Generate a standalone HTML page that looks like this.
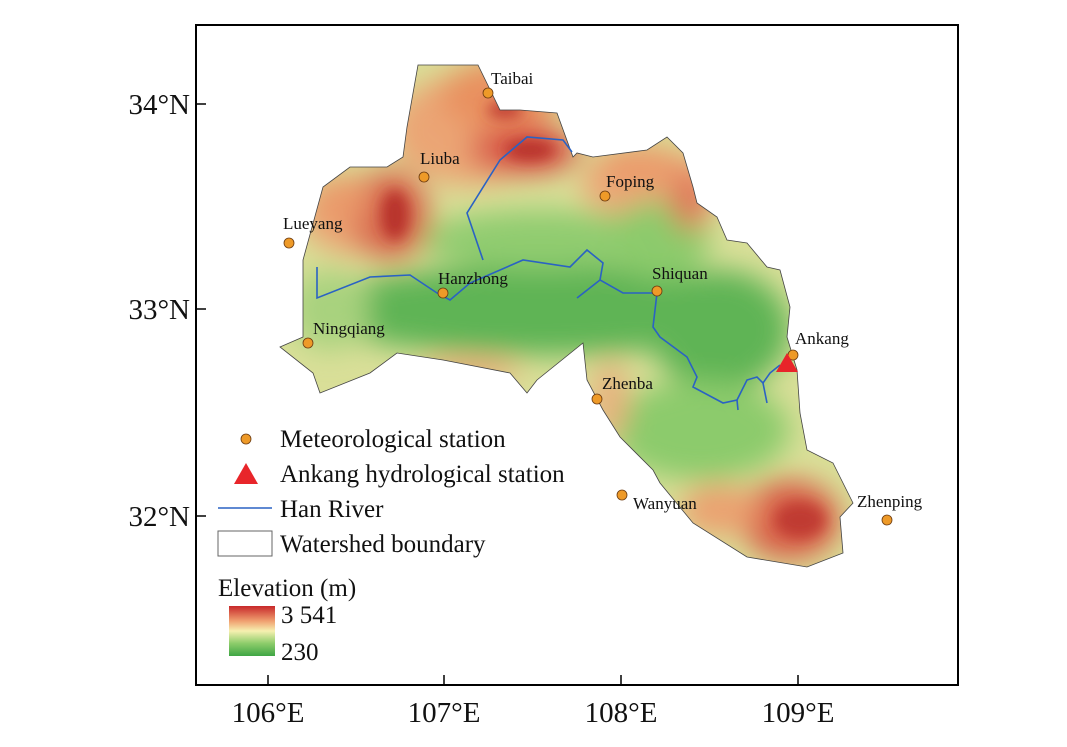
<!DOCTYPE html>
<html><head><meta charset="utf-8"><style>
html,body{margin:0;padding:0;background:#fff}
svg{display:block;font-family:"Liberation Serif",serif}
</style></head><body>
<svg width="1067" height="747" viewBox="0 0 1067 747" xmlns="http://www.w3.org/2000/svg">
<defs>
<clipPath id="ws"><path id="wsp" d="M418,65 L478,65 L500,110 L520,110 L557,113 L573,157 L577,153 L593,157 L647,150 L667,137 L683,153 L693,187 L697,203 L717,217 L727,240 L747,243 L767,267 L780,270 L790,307 L787,337 L797,370 L800,413 L807,450 L833,463 L853,503 L840,517 L843,553 L807,567 L747,557 L693,523 L660,483 L653,470 L620,437 L603,410 L587,380 L583,343 L537,380 L527,393 L510,373 L443,360 L397,353 L370,373 L320,393 L313,373 L280,347 L303,337 L303,260 L323,187 L350,167 L387,167 L403,157 L407,127 Z"/></clipPath>
<filter id="bl" x="-50%" y="-50%" width="200%" height="200%"><feGaussianBlur stdDeviation="14"/></filter>
<filter id="bl2" x="-50%" y="-50%" width="200%" height="200%"><feGaussianBlur stdDeviation="7"/></filter>
<linearGradient id="cb" x1="0" y1="0" x2="0" y2="1">
<stop offset="0" stop-color="#c8282a"/><stop offset="0.3" stop-color="#f0a070"/><stop offset="0.5" stop-color="#f6f0b0"/><stop offset="0.75" stop-color="#8ccc6a"/><stop offset="1" stop-color="#3fa544"/></linearGradient>
</defs>
<rect x="196" y="25" width="762" height="660" fill="none" stroke="#000" stroke-width="2"/>
<g clip-path="url(#ws)">
<rect x="270" y="60" width="600" height="520" fill="#d9df98"/>
<g filter="url(#bl)">
<ellipse cx="470" cy="130" rx="80" ry="55" fill="#eba575"/>
<ellipse cx="360" cy="215" rx="60" ry="40" fill="#eba575"/>
<ellipse cx="650" cy="185" rx="70" ry="35" fill="#eca978"/>
<ellipse cx="540" cy="310" rx="230" ry="45" fill="#5fb455"/>
<ellipse cx="720" cy="330" rx="70" ry="60" fill="#5fb455"/>
<ellipse cx="700" cy="430" rx="90" ry="50" fill="#8ccb6c"/>
<ellipse cx="540" cy="240" rx="120" ry="30" fill="#90cc70"/>
<ellipse cx="660" cy="240" rx="50" ry="40" fill="#8ccb6c"/>
<ellipse cx="330" cy="310" rx="40" ry="40" fill="#a8d27e"/>
<ellipse cx="500" cy="95" rx="60" ry="35" fill="#e9905e"/>
<ellipse cx="525" cy="150" rx="55" ry="25" fill="#d8584a"/>
<ellipse cx="390" cy="215" rx="40" ry="45" fill="#d86a50"/>
<ellipse cx="340" cy="200" rx="30" ry="25" fill="#ea9a6a"/>
<ellipse cx="640" cy="165" rx="45" ry="20" fill="#eb9a6a"/>
<ellipse cx="690" cy="200" rx="20" ry="30" fill="#e0785a"/>
<ellipse cx="790" cy="520" rx="50" ry="40" fill="#d86048"/>
<ellipse cx="720" cy="510" rx="40" ry="25" fill="#eba070"/>
<ellipse cx="470" cy="370" rx="50" ry="12" fill="#eea878"/>
<ellipse cx="610" cy="400" rx="18" ry="40" fill="#e9b07e"/>
</g>
<g filter="url(#bl2)">
<ellipse cx="395" cy="215" rx="14" ry="25" fill="#b8302c"/>
<ellipse cx="530" cy="150" rx="25" ry="10" fill="#b8302c"/>
<ellipse cx="505" cy="110" rx="18" ry="8" fill="#c03a30"/>
<ellipse cx="800" cy="520" rx="25" ry="18" fill="#c03a30"/>
</g>
</g>
<use href="#wsp" fill="none" stroke="#444" stroke-width="0.8"/>
<g fill="none" stroke="#2a62c4" stroke-width="1.6">
<polyline points="317,267 317,298 370,277 410,275 437,293 450,300 470,283 523,260 570,267 587,250 603,263 600,280 623,293 657,293 653,327 660,337 687,357 697,377 693,387 723,403 737,400 747,380 757,377 763,383 770,373 780,365"/>
<polyline points="483,260 467,213 500,160 527,137 563,140 572,152"/>
<polyline points="577,298 600,280"/>
<polyline points="737,400 738,410"/>
<polyline points="763,383 767,403"/>
</g>
<g fill="#ee9a28" stroke="#6b3a10" stroke-width="0.8">
<circle cx="488" cy="93" r="5"/><circle cx="424" cy="177" r="5"/><circle cx="605" cy="196" r="5"/>
<circle cx="289" cy="243" r="5"/><circle cx="443" cy="293" r="5"/><circle cx="657" cy="291" r="5"/>
<circle cx="308" cy="343" r="5"/><circle cx="793" cy="355" r="5"/><circle cx="597" cy="399" r="5"/>
<circle cx="622" cy="495" r="5"/><circle cx="887" cy="520" r="5"/>
<circle cx="246" cy="439" r="5"/>
</g>
<polygon points="787,353 776,372 798,372" fill="#e8252a"/>
<g font-size="17" fill="#111">
<text x="491" y="84">Taibai</text><text x="420" y="164">Liuba</text><text x="606" y="187">Foping</text>
<text x="283" y="229">Lueyang</text><text x="438" y="284">Hanzhong</text><text x="652" y="279">Shiquan</text>
<text x="313" y="334">Ningqiang</text><text x="795" y="344">Ankang</text><text x="602" y="389">Zhenba</text>
<text x="633" y="509">Wanyuan</text><text x="857" y="507">Zhenping</text>
</g>
<polygon points="246,463 234,484 258,484" fill="#e8252a"/>
<line x1="218" y1="508" x2="272" y2="508" stroke="#2a62c4" stroke-width="1.5"/>
<rect x="218" y="531" width="54" height="25" fill="#fff" stroke="#666" stroke-width="1"/>
<rect x="229" y="606" width="46" height="50" fill="url(#cb)"/>
<g font-size="25" fill="#111">
<text x="280" y="447">Meteorological station</text>
<text x="280" y="482">Ankang hydrological station</text>
<text x="280" y="517">Han River</text>
<text x="280" y="552">Watershed boundary</text>
<text x="218" y="596">Elevation (m)</text>
<text x="281" y="623">3 541</text>
<text x="281" y="660">230</text>
</g>
<g stroke="#000" stroke-width="1.5">
<line x1="196" y1="104" x2="206" y2="104"/><line x1="196" y1="309" x2="206" y2="309"/><line x1="196" y1="516" x2="206" y2="516"/>
<line x1="268" y1="685" x2="268" y2="675"/><line x1="444" y1="685" x2="444" y2="675"/><line x1="621" y1="685" x2="621" y2="675"/><line x1="798" y1="685" x2="798" y2="675"/>
</g>
<g font-size="29" fill="#111">
<text x="190" y="114" text-anchor="end">34°N</text>
<text x="190" y="319" text-anchor="end">33°N</text>
<text x="190" y="526" text-anchor="end">32°N</text>
<text x="268" y="722" text-anchor="middle">106°E</text>
<text x="444" y="722" text-anchor="middle">107°E</text>
<text x="621" y="722" text-anchor="middle">108°E</text>
<text x="798" y="722" text-anchor="middle">109°E</text>
</g>
</svg>
</body></html>
